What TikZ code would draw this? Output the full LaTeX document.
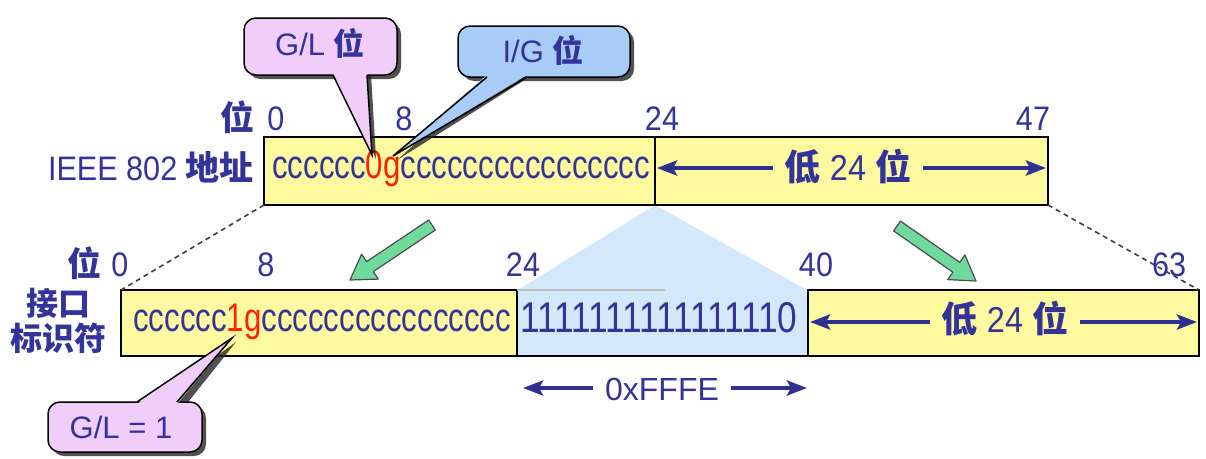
\documentclass[tikz,border=0pt]{standalone}
\usepackage{fontspec}
\setmainfont{Liberation Sans}[FakeStretch=0.78]
\newfontfamily\numfont{Liberation Sans}[FakeStretch=0.82]
\newfontfamily\lblfont{Liberation Sans}[FakeStretch=0.9]
\newfontfamily\widefont{Liberation Sans}
\newfontfamily\cjk{Noto Sans CJK SC}
\usetikzlibrary{calc,arrows.meta}

\definecolor{txtblue}{HTML}{333399}
\definecolor{arrblue}{HTML}{2E3192}
\definecolor{glred}{HTML}{FF2200}
\definecolor{fieldyellow}{HTML}{FFFA9F}
\definecolor{shadeblue}{HTML}{D3E8FA}
\definecolor{calloutpink}{HTML}{F1CDF9}
\definecolor{calloutblue}{HTML}{A8CCF7}
\definecolor{arrowgreen}{HTML}{70D99C}

\newcommand{\hz}{\cjk\bfseries}
\newcommand{\field}[5]{ \draw[line width=1.6pt, fill=#5] ( #1 , #2 ) rectangle ( #3 , #4 );}
\newcommand{\bitnode}[4]{\node[bitlbl] (#1) at ( #2 , #3 ) {#4};}
\newcommand{\fatarrow}[2]{
  \coordinate (hb) at ($(#2)!24pt!(#1)$);
  \draw[fatarr] ($(#1)!6pt!90:(#2)$) -- ($(hb)!6pt!90:(#2)$) -- ($(hb)!15pt!90:(#2)$)
    -- (#2) -- ($(hb)!15pt!-90:(#2)$) -- ($(hb)!6pt!-90:(#2)$) -- ($(#1)!6pt!-90:(#2)$) -- cycle;}

\begin{document}
\begin{tikzpicture}[x=1pt, y=-1pt,
    bitlbl/.style={anchor=base, inner sep=0pt, text=txtblue, font=\lblfont\fontsize{34}{40}\selectfont},
    bittxt/.style={anchor=base west, inner sep=0pt, text=txtblue, font=\fontsize{40}{48}\selectfont},
    lowtxt/.style={anchor=base, inner xsep=12pt, inner ysep=0pt, text=txtblue, font=\lblfont\fontsize{36}{42}\selectfont},
    calltxt/.style={anchor=base, inner sep=0pt, text=txtblue, font=\widefont\fontsize{31}{36}\selectfont},
    callout/.style={line width=1.5pt, draw=black},
    calshadow/.style={fill=black!85, opacity=0.8},
    dimarr/.style={draw=arrblue, line width=4pt, -{Stealth[length=20pt, width=15pt, inset=4pt]}},
    fatarr/.style={fill=arrowgreen, draw=black!70, line width=1.2pt, line join=round},
    zoomline/.style={draw=black!75, line width=1.6pt, dash pattern=on 5pt off 4pt}]
        \useasboundingbox (0,0) rectangle (1206,458);

        % eui-64 row, yellow ground and the shaded 0xFFFE part
        \fill[fieldyellow] (121,290) rectangle (1199,356);
        \fill[shadeblue] (655,205) -- (807,290) -- (807,356) -- (518,356) -- (518,290) -- cycle;
        \draw[line width=1.6pt] (121,290) rectangle (517,356);
        \draw[line width=1.6pt] (808,290) rectangle (1199,356);
        \draw[line width=1.6pt] (517,356) -- (808,356);
        \draw[line width=1.2pt, black!25] (517,290) -- (665,290);

        % ieee 802 row
        \field{264}{137}{655}{205}{fieldyellow}
        \field{655}{137}{1048}{205}{fieldyellow}

        \coordinate (ieeeSW) at (264,205);
        \coordinate (ieeeSE) at (1048,205);
        \coordinate (euiNW) at (121,290);
        \coordinate (euiNE) at (1199,290);
        \draw[zoomline] (ieeeSW) -- (euiNW);
        \draw[zoomline] (ieeeSE) -- (euiNE);

        % bit numbers
        \bitnode{weitop}{237}{130}{\hz 位}
        \bitnode{btop0}{276}{130}{0}
        \bitnode{btop8}{404}{130}{8}
        \bitnode{btop24}{662}{130}{24}
        \bitnode{btop47}{1033}{130}{47}

        \bitnode{weibot}{84}{276}{\hz 位}
        \bitnode{bbot0}{120}{276}{0}
        \bitnode{bbot8}{266}{276}{8}
        \bitnode{bbot24}{523}{276}{24}
        \bitnode{bbot40}{816}{276}{40}
        \bitnode{bbot63}{1169}{276}{63}

        % row names
        \node[anchor=base east, inner sep=0pt, text=txtblue, font=\lblfont\fontsize{34}{40}\selectfont] (ieee) at (254,180) {IEEE 802 {\hz 地址}};
        \node[align=center, inner sep=0pt, text=txtblue, font=\fontsize{32}{35}\selectfont] (eui) at (58,321) {{\hz 接口}\\{\hz 标识符}};

        % field contents
        \node[bittxt] (ieeebits) at (272,178) {cccccc\textcolor{glred}{0g}cccccccccccccccc};
        \node[bittxt] (euibits) at (133,331) {cccccc\textcolor{glred}{1g}cccccccccccccccc};
        \node[bittxt, font=\numfont\fontsize{43}{48}\selectfont] (fffe) at (520,332) {1111111111111110};

        % low 24 bits
        \node[lowtxt] (lowtop) at (848,180) {{\hz 低} 24 {\hz 位}};
        \coordinate (lowtopL) at (657,168);
        \coordinate (lowtopR) at (1046,168);
        \draw[dimarr] (lowtop.west |- lowtopL) -- (lowtopL);
        \draw[dimarr] (lowtop.east |- lowtopR) -- (lowtopR);

        \node[lowtxt] (lowbot) at (1005,332) {{\hz 低} 24 {\hz 位}};
        \coordinate (lowbotL) at (810,322);
        \coordinate (lowbotR) at (1197,322);
        \draw[dimarr] (lowbot.west |- lowbotL) -- (lowbotL);
        \draw[dimarr] (lowbot.east |- lowbotR) -- (lowbotR);

        \node[lowtxt, font=\widefont\fontsize{32}{38}\selectfont] (ffname) at (662,400) {0xFFFE};
        \coordinate (ffL) at (523,388);
        \coordinate (ffR) at (807,388);
        \draw[dimarr] (ffname.west |- ffL) -- (ffL);
        \draw[dimarr] (ffname.east |- ffR) -- (ffR);

        % green arrows
        \coordinate (gtailL) at (432,225);
        \coordinate (gtipL) at (350,280);
        \fatarrow{gtailL}{gtipL}
        \coordinate (gtailR) at (897,226);
        \coordinate (gtipR) at (976,281);
        \fatarrow{gtailR}{gtipR}

        % callout G/L
        \begin{scope}[shift={(4,4)}]
          \fill[calshadow, rounded corners=12pt] (244,18) rectangle (397,75);
          \fill[calshadow] (333,70) -- (372,155) -- (367,70) -- cycle;
          \fill[calshadow, rounded corners=12pt] (458,26) rectangle (630,77);
          \fill[calshadow] (487,72) -- (393,156) -- (527,72) -- cycle;
          \fill[calshadow, rounded corners=12pt] (48,402) rectangle (202,452);
          \fill[calshadow] (137,407) -- (232,338) -- (177,407) -- cycle;
        \end{scope}
        \draw[callout, fill=calloutpink, rounded corners=12pt] (244,18) rectangle (397,75);
        \fill[calloutpink] (333,73) -- (372,155) -- (367,73) -- cycle;
        \draw[callout] (333,75) -- (372,155) -- (367,75);
        \node[calltxt] (glbit) at (320,55) {G/L {\hz 位}};

        % callout I/G
        \draw[callout, fill=calloutblue, rounded corners=12pt] (458,26) rectangle (630,77);
        \fill[calloutblue] (487,75) -- (393,156) -- (527,75) -- cycle;
        \draw[callout] (487,77) -- (393,156) -- (527,77);
        \node[calltxt] (igbit) at (543,62) {I/G {\hz 位}};

        % callout G/L = 1
        \draw[callout, fill=calloutpink, rounded corners=12pt] (48,402) rectangle (202,452);
        \fill[calloutpink] (137,404) -- (232,338) -- (177,404) -- cycle;
        \draw[callout] (137,402) -- (232,338) -- (177,402);
        \node[calltxt] (glone) at (121,438) {G/L = 1};
\end{tikzpicture}
\end{document}
